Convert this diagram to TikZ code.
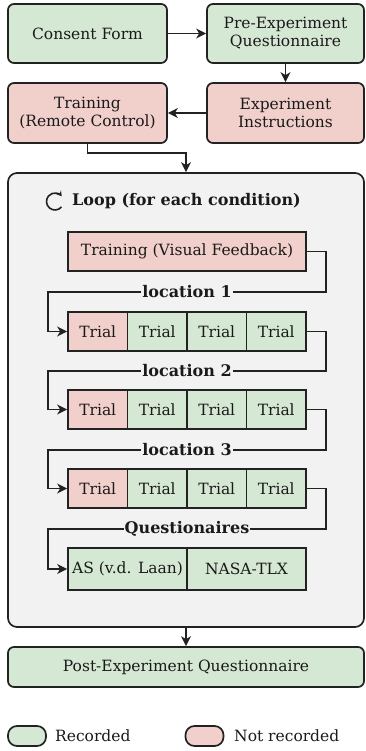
\documentclass[tikz,border=0pt]{standalone}
\usepackage{fontspec}
\setmainfont{DejaVu Serif}
\usetikzlibrary{arrows.meta}
\definecolor{grn}{HTML}{D5E8D4}
\definecolor{rd}{HTML}{F1CFCB}
\definecolor{loopbg}{HTML}{F2F2F2}
\definecolor{bd}{HTML}{222222}
\definecolor{txt}{HTML}{1A1A1A}
\begin{document}
\begin{tikzpicture}[x=1pt,y=-1pt,
  font=\fontsize{15.5}{18}\selectfont, text=txt,
  rbox/.style={draw=bd, line width=1.7pt, rounded corners=6pt, align=center, inner sep=2pt},
  sbox/.style={draw=bd, line width=1.7pt, align=center, inner sep=1pt},
  conn/.style={draw=bd, line width=1.5pt, -{Stealth[length=10pt,width=10pt,inset=3pt]}},
  lab/.style={fill=loopbg, inner sep=1pt, font=\fontsize{16}{18}\selectfont\bfseries},
  legbox/.style={draw=bd, line width=1.7pt, rounded corners=9pt, minimum width=38pt, minimum height=20pt, inner sep=0pt}]
\useasboundingbox (0,0) rectangle (365,751);
% top
\node[rbox, fill=grn, minimum width=159pt, minimum height=59pt] (consent) at (87.5,33.5) {Consent Form};
\node[rbox, fill=grn, minimum width=157pt, minimum height=59pt] (pre) at (285.5,33.5) {Pre-Experiment\\Questionnaire};
\node[rbox, fill=rd, minimum width=159pt, minimum height=60pt] (trc) at (87.5,113) {Training\\(Remote Control)};
\node[rbox, fill=rd, minimum width=157pt, minimum height=60pt] (exp) at (285.5,113) {Experiment\\Instructions};
% loop
\node[draw=bd, line width=1.7pt, rounded corners=9pt, fill=loopbg, minimum width=356pt, minimum height=454pt, inner sep=0pt] (loop) at (186,400) {};
\begin{scope}[shift={(55,201.5)}, yscale=-1]
  \draw[draw=bd, line width=1.6pt, -{Stealth[length=5pt,width=6pt]}] (-40:8.5) arc[start angle=-40, end angle=-322, radius=8.5];
\end{scope}
\node[anchor=west, inner sep=0pt, font=\fontsize{16}{18}\selectfont\bfseries] (ltitle) at (72,201) {Loop (for each condition)};
\node[sbox, fill=rd, minimum width=238pt, minimum height=39pt] (tvf) at (187,251.5) {Training (Visual Feedback)};
% trial rows
\foreach \r/\y in {1/331.5, 2/409.5, 3/488.5}{
  \node[sbox, fill=rd, minimum width=59.5pt, minimum height=39pt] (t\r1) at (97.75,\y) {Trial};
  \node[sbox, fill=grn, minimum width=59.5pt, minimum height=39pt] (t\r2) at (157.25,\y) {Trial};
  \node[sbox, fill=grn, minimum width=59.5pt, minimum height=39pt] (t\r3) at (216.75,\y) {Trial};
  \node[sbox, fill=grn, minimum width=59.5pt, minimum height=39pt] (t\r4) at (276.25,\y) {Trial};
}
\node[sbox, fill=grn, minimum width=119pt, minimum height=42pt] (q1) at (127.5,569) {AS (v.d. Laan)};
\node[sbox, fill=grn, minimum width=119pt, minimum height=42pt] (q2) at (246.5,569) {NASA-TLX};
% post
\node[rbox, fill=grn, minimum width=356pt, minimum height=40pt] (post) at (186,667) {Post-Experiment Questionnaire};
% legend
\node[legbox, fill=grn] (lg) at (27,736) {};
\node[anchor=west, inner sep=0pt] (lgt) at (55,736) {Recorded};
\node[legbox, fill=rd] (lr) at (204.5,736) {};
\node[anchor=west, inner sep=0pt] (lrt) at (234,736) {Not recorded};
% connectors
\draw[conn] (consent.east) -- (pre.west);
\draw[conn] (pre.south) -- (exp.north);
\draw[conn] (exp.west) -- (trc.east);
\draw[conn] (trc.south) -- (87.5,153) -| (loop.north);
\draw[conn] (tvf.east) -- (326,251.5) -- (326,292) -- node[lab]{location 1} (48,292) |- (t11.west);
\draw[conn] (t14.east) -- (326,331.5) -- (326,371) -- node[lab]{location 2} (48,371) |- (t21.west);
\draw[conn] (t24.east) -- (326,409.5) -- (326,450) -- node[lab]{location 3} (48,450) |- (t31.west);
\draw[conn] (t34.east) -- (326,488.5) -- (326,529) -- node[lab]{Questionaires} (48,529) |- (q1.west);
\draw[conn] (loop.south) -- (post.north);
\end{tikzpicture}
\end{document}
